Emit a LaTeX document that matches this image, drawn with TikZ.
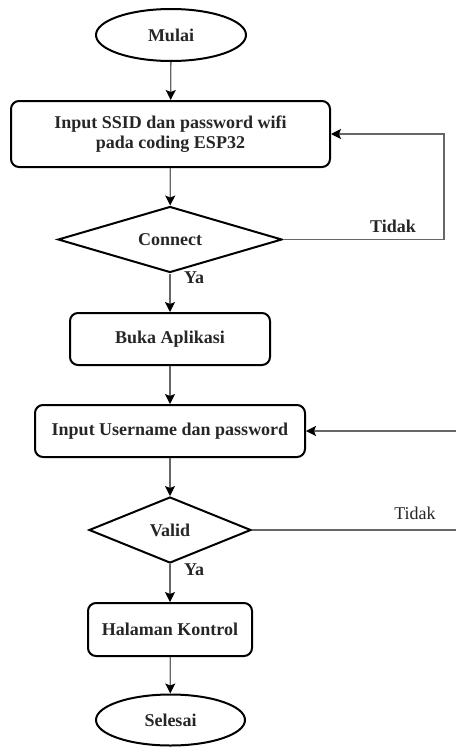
\documentclass[tikz,border=0pt]{standalone}
\usepackage{fontspec}
\setmainfont{Liberation Serif}
\usetikzlibrary{shapes.geometric,arrows.meta}
\begin{document}
\begin{tikzpicture}[x=1pt,y=-1pt,
  every node/.style={font=\fontsize{18}{20}\selectfont\bfseries, text=black!85},
  term/.style={draw=black, line width=2pt, ellipse, minimum width=150pt, minimum height=52pt, inner sep=0pt},
  proc/.style={draw=black, line width=2pt, rectangle, rounded corners=8pt, inner sep=0pt, align=center},
  dec/.style={draw=black, line width=2pt, diamond, inner sep=0pt},
  arr/.style={draw=black!60, line width=1.3pt, -{Stealth[length=10pt,width=10pt,inset=2pt,color=black]}},
  ln/.style={draw=black!60, line width=1.3pt},
  lab/.style={font=\fontsize{18}{20}\selectfont\bfseries}
]
\useasboundingbox (0,0) rectangle (456,747);
\node[term] (mulai) at (171,35) {Mulai};
\node[proc, minimum width=319pt, minimum height=66pt] (in1) at (170.5,134) {Input SSID dan password wifi\\pada coding ESP32};
\node[dec, aspect=3.4, minimum width=224pt, minimum height=66pt] (conn) at (170,239.5) {Connect};
\node[proc, minimum width=200pt, minimum height=52pt] (buka) at (170,339) {Buka Aplikasi};
\node[proc, minimum width=270pt, minimum height=52pt] (inuser) at (170,431) {Input Username dan password};
\node[dec, aspect=2.45, minimum width=162pt, minimum height=66pt] (valid) at (170,530) {Valid};
\node[proc, minimum width=164pt, minimum height=53pt] (hal) at (170,629.5) {Halaman Kontrol};
\node[term, minimum width=149pt, minimum height=51pt] (sel) at (170.5,720) {Selesai};

\coordinate (r1) at (444,134);
\coordinate (e1) at (456,431);
\coordinate (e2) at (456,530);

\draw[arr] (mulai) -- (in1);
\draw[arr] (in1) -- (conn);
\draw[arr] (conn) -- (buka);
\draw[arr] (buka) -- (inuser);
\draw[arr] (inuser) -- (valid);
\draw[arr] (valid) -- (hal);
\draw[arr] (hal) -- (sel);
\draw[arr] (conn.east) -| (r1) -- (in1.east);
\draw[arr] (e1) -- (inuser.east);
\draw[ln] (valid.east) -- (e2);

\node[lab] (ya1) at (194,278) {Ya};
\node[lab] (ya2) at (194,570) {Ya};
\node[lab] (td1) at (393,226) {Tidak};
\node[lab, font=\fontsize{18}{20}\selectfont] (td2) at (415,513) {Tidak};
\end{tikzpicture}
\end{document}
